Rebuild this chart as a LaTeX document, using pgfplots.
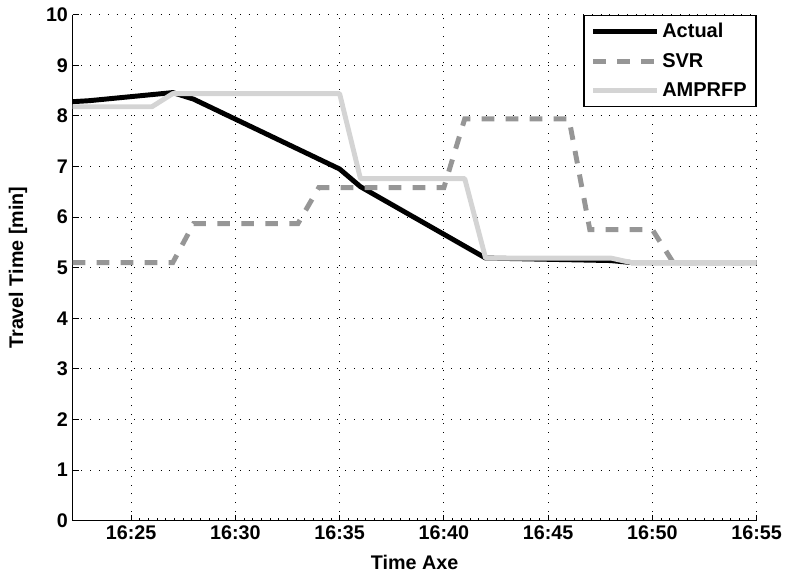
\documentclass[border=0pt]{standalone}
\usepackage{fontspec}
\setmainfont{Liberation Sans}
\usepackage{pgfplots}
\pgfplotsset{compat=1.18}
\definecolor{svrgray}{RGB}{150,150,150}
\definecolor{amplight}{RGB}{212,212,212}
\begin{document}
\begin{tikzpicture}
\begin{axis}[name=ax, scale only axis, width=513pt, height=379.5pt,
  xmin=22.2, xmax=55, ymin=0, ymax=10,
  axis x line*=bottom, axis y line*=left,
  axis line style={-, line width=0.6pt},
  xtick={25,30,35,40,45,50,55},
  xticklabels={16:25,16:30,16:35,16:40,16:45,16:50,16:55},
  minor x tick num=11,
  ytick={0,1,...,10},
  tick align=inside, major tick length=4.5pt, minor tick length=2.25pt,
  tick style={black, line width=0.6pt},
  grid=major, grid style={black, line width=0.6pt, dash pattern=on 0.6pt off 6pt},
  /pgf/number format/assume math mode=true,
  ticklabel style={font=\fontsize{14.8}{17}\selectfont\bfseries},
  xlabel={Time Axe}, ylabel={Travel Time [min]},
  label style={font=\fontsize{14.8}{17}\selectfont\bfseries},
  xlabel style={at={(axis description cs:0.5,-0.0817)}, anchor=center},
  ylabel style={at={(axis description cs:-0.08,0.5)}, anchor=center},
  legend style={at={(1,1)}, anchor=north east, draw=black, line width=0.9pt,
    font=\fontsize{15}{17}\selectfont\bfseries, inner xsep=5pt, inner ysep=4pt,
    row sep=6pt},
  legend cell align=left,
  legend image code/.code={\draw[#1] (0pt,0pt) -- (48pt,0pt);},
]
\addplot[black, line width=3.7pt, line join=round] coordinates {
(22.2,8.28) (23,8.30) (27,8.46) (28,8.33) (35,6.95) (36,6.60) (42,5.19) (48,5.14) (49,5.10) (55,5.10)};
\addlegendentry{Actual}
\addplot[svrgray, line width=3.7pt, dash pattern=on 9.5pt off 8.5pt] coordinates {
(22.2,5.10) (27,5.10) (28,5.87) (33,5.87) (34,6.58) (40,6.58) (41,7.94) (46,7.94) (47,5.75) (50,5.75) (51,5.10) (55,5.10)};
\addlegendentry{SVR}
\addplot[amplight, line width=3.7pt, line join=round] coordinates {
(22.2,8.18) (26,8.18) (27,8.44) (35,8.44) (36,6.76) (41,6.76) (42,5.19) (48,5.19) (49,5.10) (55,5.10)};
\addlegendentry{AMPRFP}
\end{axis}
\pgfresetboundingbox
\path (ax.south west) ++(-54.5pt,-39.2pt) coordinate (bl);
\path (ax.north east) ++(29.5pt,11pt) coordinate (tr);
\path (bl) rectangle (tr);
\end{tikzpicture}
\end{document}
